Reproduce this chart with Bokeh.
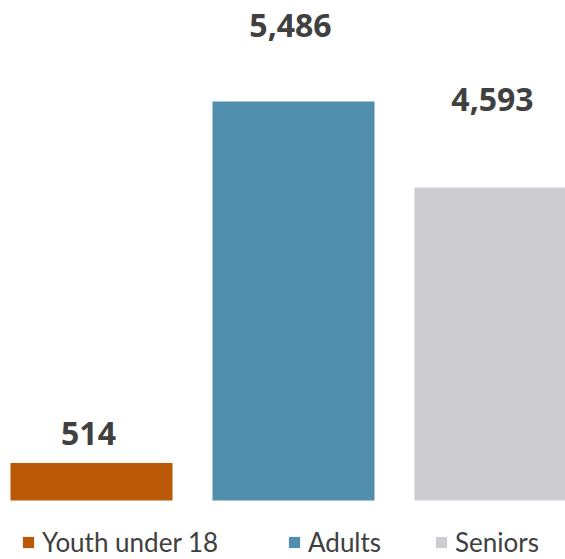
from bokeh.plotting import figure
from bokeh.models import Range1d, ColumnDataSource, Legend, LegendItem
from bokeh.core.properties import value
from bokeh.embed import file_html
from bokeh.resources import INLINE

categories = ["Youth under 18", "Adults", "Seniors"]
bar_values = [514, 5486, 4303]
label_texts = ["514", "5,486", "4,593"]
colors = ["#BA5A08", "#528FAC", "#CDCCD1"]
label_offsets = [-30, -76, -88]
legend_x = [21, 287, 434]

src = ColumnDataSource(dict(
    x=list(range(len(categories))),
    top=bar_values,
    color=colors,
    label=label_texts,
    yoff=label_offsets,
))

p = figure(width=565, height=559, output_backend="svg", toolbar_location=None,
           x_range=Range1d(-0.4505, 2.3465), y_range=Range1d(-811.2, 6874.6),
           min_border=0, x_axis_location=None, y_axis_location=None)
p.grid.visible = False
p.outline_line_color = None

r = p.vbar(x="x", top="top", bottom=0, width=0.802, color="color", line_color=None, source=src)
p.text(x="x", y="top", text="label", source=src, text_font=value("Open Sans"),
       text_font_style="bold", text_font_size="32px", text_color="#404040",
       text_align="center", text_baseline="alphabetic", y_offset="yoff", x_offset=-3)

for i, cat in enumerate(categories):
    lg = Legend(items=[LegendItem(label=cat, renderers=[r], index=i)],
                location=(legend_x[i], 1), orientation="horizontal",
                padding=0, margin=0, spacing=0, glyph_width=14, glyph_height=14,
                label_standoff=7, label_text_font="Lato", label_text_font_size="26px",
                label_height=26, label_text_line_height=1.0,
                label_text_color="#404040", border_line_alpha=0,
                background_fill_alpha=0)
    p.add_layout(lg, "center")

open("out.html", "w").write(file_html(p, INLINE))
